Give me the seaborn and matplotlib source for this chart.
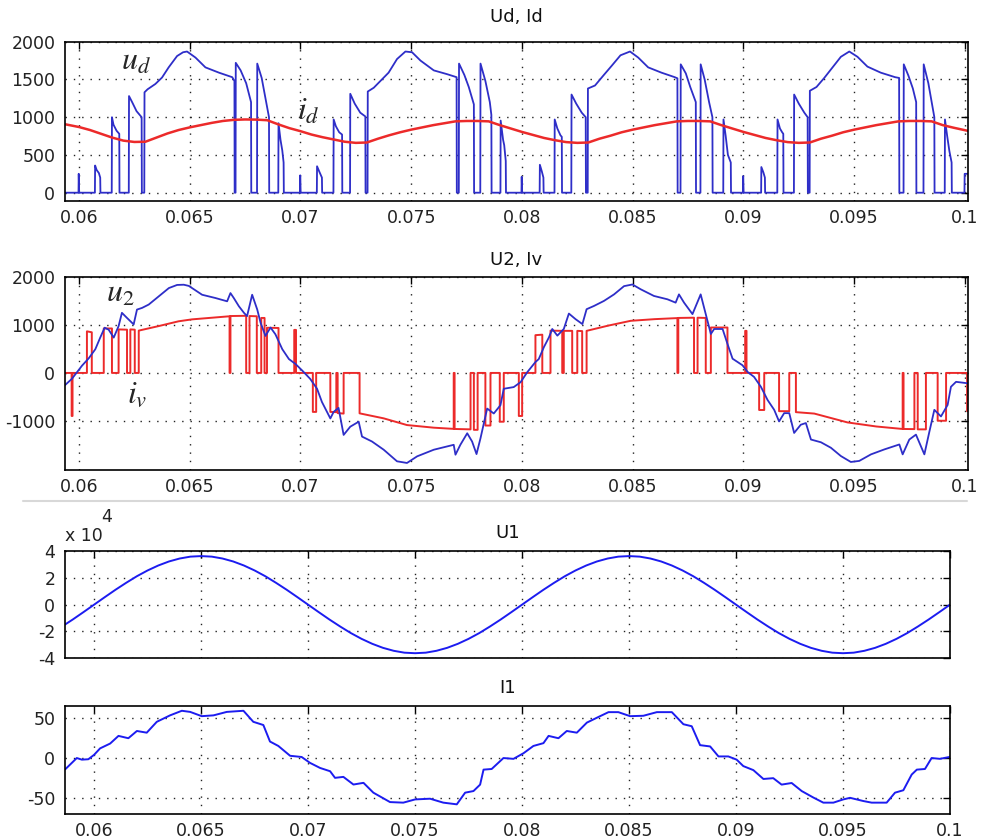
import numpy as np
import matplotlib
matplotlib.use("Agg")
import matplotlib.pyplot as plt
from matplotlib.lines import Line2D
import seaborn as sns

# ---------------- data (time in ms) ----------------
x_ticks = [0.06, 0.065, 0.07, 0.075, 0.08, 0.085, 0.09, 0.095, 0.1]
x_tick_labels = ["0.06", "0.065", "0.07", "0.075", "0.08", "0.085", "0.09", "0.095", "0.1"]

ud_pts = [
    (59.40, 0), (59.98, 0), (59.99, 250), (60.01, 0),
    (60.72, 0), (60.73, 360), (60.80, 300), (60.90, 260), (60.96, 200), (60.97, 0),
    (61.48, 0), (61.49, 1000), (61.56, 900), (61.70, 820), (61.82, 780), (61.83, 0),
    (62.25, 0), (62.26, 1280), (62.40, 1200), (62.60, 1080), (62.83, 1000), (62.84, 0),
    (62.95, 0), (62.96, 1330), (63.10, 1370), (63.45, 1440), (63.75, 1525), (64.05, 1660),
    (64.43, 1810), (64.70, 1860), (64.88, 1870), (65.26, 1790), (65.71, 1660), (66.32, 1590),
    (66.92, 1530), (67.02, 1480), (67.03, 0), (67.07, 0), (67.08, 1720), (67.30, 1620),
    (67.55, 1450), (67.77, 1200), (67.78, 0), (68.04, 0), (68.05, 1710), (68.25, 1520),
    (68.42, 1250), (68.58, 1000), (68.59, 0), (69.00, 0), (69.01, 920), (69.10, 700),
    (69.18, 560), (69.24, 400), (69.25, 0),
    (69.98, 0), (69.99, 230), (70.01, 0),
    (70.74, 0), (70.75, 350), (70.85, 280), (70.97, 200), (70.98, 0),
    (71.49, 0), (71.50, 970), (71.60, 880), (71.75, 800), (71.88, 770), (71.89, 0),
    (72.24, 0), (72.25, 1310), (72.45, 1180), (72.70, 1060), (72.93, 1010), (72.94, 0),
    (73.03, 0), (73.04, 1340), (73.31, 1390), (73.61, 1480), (73.98, 1590), (74.36, 1770),
    (74.74, 1870), (75.04, 1860), (75.42, 1750), (76.02, 1620), (76.62, 1570), (77.05, 1530),
    (77.06, 0), (77.15, 0), (77.16, 1710), (77.40, 1560), (77.60, 1400), (77.83, 1170),
    (77.84, 0), (78.12, 0), (78.13, 1710), (78.35, 1480), (78.55, 1200), (78.62, 1030),
    (78.63, 0), (79.03, 0), (79.04, 955), (79.15, 700), (79.20, 630), (79.27, 420), (79.28, 0),
    (79.98, 0), (79.99, 210), (80.01, 0),
    (80.80, 0), (80.81, 370), (80.90, 280), (80.97, 200), (80.98, 0),
    (81.47, 0), (81.48, 970), (81.60, 850), (81.74, 760), (81.80, 740), (81.81, 0),
    (82.23, 0), (82.24, 1300), (82.45, 1180), (82.70, 1060), (82.88, 1000), (82.89, 0),
    (82.97, 0), (82.98, 1380), (83.30, 1420), (83.70, 1560), (84.05, 1680), (84.45, 1820),
    (84.88, 1870), (85.25, 1790), (85.70, 1660), (86.30, 1590), (86.90, 1530), (87.02, 1515),
    (87.03, 0), (87.16, 0), (87.17, 1700), (87.40, 1580), (87.60, 1400), (87.85, 1200),
    (87.86, 0), (88.06, 0), (88.07, 1700), (88.25, 1500), (88.45, 1200), (88.60, 1000),
    (88.61, 0), (89.09, 0), (89.10, 970), (89.20, 750), (89.30, 500), (89.43, 400), (89.44, 0),
    (89.98, 0), (89.99, 220), (90.01, 0),
    (90.80, 0), (90.81, 340), (90.90, 270), (90.97, 200), (90.98, 0),
    (91.53, 0), (91.54, 970), (91.65, 850), (91.75, 800), (91.80, 780), (91.81, 0),
    (92.28, 0), (92.29, 1300), (92.50, 1180), (92.75, 1060), (92.90, 1000), (92.91, 0),
    (92.99, 0), (93.00, 1350), (93.30, 1400), (93.65, 1520), (94.00, 1650), (94.40, 1800),
    (94.78, 1870), (95.15, 1800), (95.60, 1670), (96.20, 1590), (96.85, 1530), (97.03, 1520),
    (97.04, 0), (97.23, 0), (97.24, 1700), (97.45, 1550), (97.65, 1380), (97.80, 1200),
    (97.81, 0), (98.13, 0), (98.14, 1700), (98.35, 1450), (98.50, 1200), (98.62, 1000),
    (98.63, 0), (99.09, 0), (99.10, 970), (99.20, 750), (99.30, 550), (99.40, 400), (99.41, 0),
    (99.98, 0), (99.99, 250), (100.20, 250),
]

id_t = [59.4, 60.0, 60.5, 61.0, 61.5, 62.0, 62.5, 63.0, 63.5, 64.0, 64.5, 65.0, 65.5, 66.0,
        66.5, 67.0, 67.5, 68.0, 68.5, 69.0, 69.5, 70.0, 70.5, 71.0, 71.5, 72.0, 72.5, 73.0,
        73.5, 74.0, 74.5, 75.0, 75.5, 76.0, 76.5, 77.0, 77.5, 78.0, 78.5, 79.0, 79.5, 80.0,
        80.5, 81.0, 81.5, 82.0, 82.5, 83.0, 83.5, 84.0, 84.5, 85.0, 85.5, 86.0, 86.5, 87.0,
        87.5, 88.0, 88.5, 89.0, 89.5, 90.0, 90.5, 91.0, 91.5, 92.0, 92.5, 93.0, 93.5, 94.0,
        94.5, 95.0, 95.5, 96.0, 96.5, 97.0, 97.5, 98.0, 98.5, 99.0, 99.5, 100.2]
id_v = [905, 870, 830, 780, 730, 690, 672, 675, 730, 785, 830, 865, 895, 925,
        950, 965, 970, 968, 960, 905, 855, 815, 770, 735, 705, 675, 660, 665,
        715, 760, 800, 835, 865, 895, 920, 945, 950, 950, 945, 895, 850, 805,
        765, 725, 695, 670, 660, 665, 715, 755, 800, 835, 865, 895, 920, 945,
        950, 950, 945, 895, 850, 805, 765, 725, 695, 670, 660, 665, 715, 755,
        800, 835, 865, 895, 920, 945, 950, 950, 945, 895, 860, 815]

u2_pts = [
    (59.37, -255), (59.68, -124), (60.14, 153), (60.44, 305), (60.74, 497), (60.96, 739),
    (61.16, 946), (61.34, 905), (61.57, 739), (61.79, 980), (61.94, 1257), (62.17, 1150),
    (62.47, 1015), (62.62, 1325), (62.85, 1360), (63.15, 1430), (63.60, 1600), (64.06, 1775),
    (64.43, 1840), (64.73, 1845), (64.96, 1820), (65.56, 1635), (66.16, 1567), (66.69, 1498),
    (66.84, 1670), (66.99, 1567), (67.22, 1395), (67.45, 1257), (67.59, 1188), (67.82, 1635),
    (68.05, 1325), (68.20, 1050), (68.42, 774), (68.65, 950), (68.87, 808), (69.18, 497),
    (69.48, 290), (69.78, 186), (70.08, 50), (70.44, -124), (70.75, -331), (70.97, -607),
    (71.20, -814), (71.35, -952), (71.50, -814), (71.72, -731), (71.95, -1296), (72.25, -1124),
    (72.63, -1020), (72.78, -1331), (73.23, -1434), (73.76, -1606), (74.36, -1848),
    (74.81, -1883), (75.27, -1744), (76.02, -1606), (76.62, -1537), (76.92, -1503),
    (77.00, -1710), (77.22, -1503), (77.53, -1262), (77.75, -1434), (77.95, -1697),
    (78.13, -1365), (78.43, -745), (78.73, -848), (79.03, -675), (79.18, -331), (79.63, -296),
    (79.94, -193), (80.24, 15), (80.61, 228), (80.76, 290), (80.99, 538), (81.22, 745),
    (81.37, 919), (81.60, 780), (81.89, 919), (82.12, 1242), (82.42, 1125), (82.73, 1022),
    (82.92, 1333), (83.25, 1400), (83.70, 1505), (84.16, 1643), (84.61, 1815), (84.99, 1850),
    (85.36, 1750), (85.96, 1610), (86.57, 1540), (86.94, 1470), (87.09, 1643), (87.32, 1470),
    (87.70, 1230), (88.07, 1643), (88.30, 1230), (88.53, 815), (88.68, 919), (89.06, 919),
    (89.28, 608), (89.51, 298), (89.96, 160), (90.19, 21), (90.48, -83), (90.79, -290),
    (91.09, -565), (91.39, -772), (91.61, -1014), (91.84, -841), (92.07, -841), (92.29, -1255),
    (92.59, -1083), (92.82, -1048), (93.05, -1393), (93.50, -1450), (93.95, -1565),
    (94.40, -1738), (94.85, -1862), (95.23, -1840), (95.76, -1703), (96.36, -1600),
    (97.04, -1496), (97.19, -1703), (97.49, -1393), (97.79, -1290), (98.17, -1703),
    (98.40, -1221), (98.62, -772), (98.92, -910), (99.22, -669), (99.37, -290), (99.60, -186),
    (100.20, -221),
]

iv_pts = [
    (59.40, 0), (59.67, 0), (59.67, -900), (59.71, -900), (59.71, 0),
    (60.36, 0), (60.36, 870), (60.58, 850), (60.58, 0),
    (61.12, 0), (61.12, 930), (61.49, 930), (61.49, 0),
    (61.79, 0), (61.79, 910), (62.17, 905), (62.17, 0),
    (62.32, 0), (62.32, 910), (62.52, 905), (62.52, 0),
    (62.70, 0), (62.70, 885), (63.60, 980), (64.50, 1080), (65.10, 1120), (65.90, 1150), (66.80, 1185),
    (66.80, 0), (66.84, 0), (66.84, 1190), (67.55, 1195), (67.55, 0), (67.70, 0), (67.70, 1190),
    (68.03, 1185), (68.03, 0), (68.23, 0), (68.23, 1150), (68.38, 1150), (68.38, 0),
    (68.49, 0), (68.49, 945), (69.01, 940), (69.01, 0),
    (69.72, 0), (69.72, 900), (69.80, 900), (69.80, 0),
    (70.56, 0), (70.56, -815), (70.71, -815), (70.71, 0),
    (71.35, 0), (71.35, -815), (71.62, -820), (71.62, 0),
    (71.68, 0), (71.68, -840), (71.95, -850), (71.95, 0),
    (72.67, 0), (72.67, -845), (73.76, -950), (74.81, -1090), (76.02, -1145), (76.92, -1170),
    (76.92, 0), (76.96, 0), (76.96, -1172), (77.68, -1180), (77.68, 0),
    (77.83, 0), (77.83, -1190), (78.00, -1190), (78.00, 0),
    (78.35, 0), (78.35, -1100), (78.58, -1100), (78.58, 0),
    (79.00, 0), (79.00, -1020), (79.18, -1020), (79.18, 0),
    (79.86, 0), (79.86, -900), (80.01, -900), (80.01, 0),
    (80.61, 0), (80.61, 790), (80.92, 800), (80.92, 0),
    (81.29, 0), (81.29, 885), (81.82, 880), (81.82, 0),
    (81.89, 0), (81.89, 880), (82.27, 880), (82.27, 0),
    (82.50, 0), (82.50, 880), (82.72, 875), (82.72, 0),
    (82.92, 0), (82.92, 880), (83.90, 990), (84.91, 1090), (86.00, 1125), (87.02, 1147),
    (87.02, 0), (87.06, 0), (87.06, 1150), (87.77, 1155), (87.77, 0), (87.93, 0), (87.93, 1155),
    (88.30, 1150), (88.30, 0),
    (88.53, 0), (88.53, 950), (89.28, 950), (89.28, 0),
    (90.08, 0), (90.08, 880), (90.14, 880), (90.14, 0),
    (90.71, 0), (90.71, -775), (90.94, -775), (90.94, 0),
    (91.61, 0), (91.61, -800), (92.07, -800), (92.07, 0),
    (92.37, 0), (92.37, -820), (93.20, -850), (94.70, -1035), (96.00, -1120), (97.19, -1172),
    (97.19, 0), (97.23, 0), (97.23, -1172), (97.72, -1175), (97.72, 0),
    (97.87, 0), (97.87, -1180), (98.24, -1180), (98.24, 0),
    (98.77, 0), (98.77, -1000), (99.15, -1000), (99.15, 0),
    (100.10, 0), (100.10, -800), (100.20, -800),
]

u1_t = [58.5, 59.0, 59.5, 60.0, 60.5, 61.0, 61.5, 62.0, 62.5, 63.0, 63.5, 64.0, 64.5, 65.0,
        65.5, 66.0, 66.5, 67.0, 67.5, 68.0, 68.5, 69.0, 69.5, 70.0, 70.5, 71.0, 71.5, 72.0,
        72.5, 73.0, 73.5, 74.0, 74.5, 75.0, 75.5, 76.0, 76.5, 77.0, 77.5, 78.0, 78.5, 79.0,
        79.5, 80.0, 80.5, 81.0, 81.5, 82.0, 82.5, 83.0, 83.5, 84.0, 84.5, 85.0, 85.5, 86.0,
        86.5, 87.0, 87.5, 88.0, 88.5, 89.0, 89.5, 90.0, 90.5, 91.0, 91.5, 92.0, 92.5, 93.0,
        93.5, 94.0, 94.5, 95.0, 95.5, 96.0, 96.5, 97.0, 97.5, 98.0, 98.5, 99.0, 99.5, 100.0]
u1_v = [-16300, -11100, -5600, 0, 5600, 11100, 16300, 21200, 25500, 29200, 32200, 34400, 35800, 36200,
        35800, 34400, 32200, 29200, 25500, 21200, 16300, 11100, 5600, 0, -5600, -11100, -16300, -21200,
        -25500, -29200, -32200, -34400, -35800, -36200, -35800, -34400, -32200, -29200, -25500, -21200, -16300, -11100,
        -5600, 0, 5600, 11100, 16300, 21200, 25500, 29200, 32200, 34400, 35800, 36200, 35800, 34400,
        32200, 29200, 25500, 21200, 16300, 11100, 5600, 0, -5600, -11100, -16300, -21200, -25500, -29200,
        -32200, -34400, -35800, -36200, -35800, -34400, -32200, -29200, -25500, -21200, -16300, -11100, -5600, 0]

i1_pts = [
    (58.65, -14), (58.96, -6), (59.19, 0), (59.43, -2), (59.73, -1.5), (60.00, 4), (60.28, 12),
    (60.75, 18), (61.14, 27.5), (61.60, 24.6), (62.00, 33.6), (62.46, 31.5), (62.93, 45),
    (63.55, 53), (64.10, 58.7), (64.49, 57.3), (65.03, 52), (65.58, 53), (66.20, 57.3),
    (66.98, 58.7), (67.44, 45), (67.91, 41), (68.22, 20.5), (68.61, 15), (69.16, 2.8),
    (69.70, 1.3), (70.09, -6), (70.56, -12.3), (71.03, -16.4), (71.26, -24.6), (71.65, -23.4),
    (72.12, -32.9), (72.59, -30.8), (73.05, -43), (73.83, -54.7), (74.45, -55.4), (75.00, -51.4),
    (75.70, -50.5), (76.32, -55.4), (76.95, -57.5), (77.34, -43), (77.73, -41), (78.04, -33),
    (78.20, -14.4), (78.58, -13.6), (79.13, 0), (79.60, -1), (80.07, 6), (80.53, 15),
    (81.00, 18.5), (81.24, 27.5), (81.70, 24.6), (82.09, 33.6), (82.56, 31.5), (83.03, 44),
    (83.57, 51), (84.04, 57), (84.50, 57), (85.05, 52), (85.67, 52.5), (86.30, 57), (87.00, 57),
    (87.54, 42), (87.93, 39.5), (88.32, 16), (88.79, 14.4), (89.18, 2), (89.64, 2), (90.03, -2),
    (90.34, -10), (90.81, -15), (91.28, -26), (91.74, -25), (92.13, -33), (92.60, -31),
    (93.07, -41), (93.61, -49), (94.08, -55.4), (94.55, -55.4), (95.01, -51.4), (95.33, -49.4),
    (95.95, -53.4), (96.34, -55.4), (97.04, -55.4), (97.43, -43), (97.82, -40), (98.21, -20.5),
    (98.45, -14.4), (98.83, -13.6), (99.14, 0), (99.53, -1), (99.97, 1.3),
]

yt1 = [0, 500, 1000, 1500, 2000]
yt2 = [-1000, 0, 1000, 2000]
yt3 = [-40000, -20000, 0, 20000, 40000]
yt3_labels = ["-4", "-2", "0", "2", "4"]
yt4 = [-50, 0, 50]

# ---------------- styling ----------------
sns.set_style("white")
plt.rcParams['font.family'] = ['DejaVu Sans']
plt.rcParams['mathtext.fontset'] = 'stix'

W, H = 983, 839
fig = plt.figure(figsize=(W / 100, H / 100), dpi=100)
fig.patch.set_facecolor('white')


def axes_px(l, t, r, b):
    return fig.add_axes([l / W, 1 - b / H, (r - l) / W, (b - t) / H])


BLUE = '#2e2ec8'
BLUE2 = '#1c1cf0'
RED = '#ec2a2a'


def to_s(vals):
    return np.asarray(vals, dtype=float) / 1000.0


def style(ax, xlim, ylim, yticks, ylabels=None, showx=True, title='', tpad=8):
    ax.set_xlim(*xlim)
    ax.set_ylim(*ylim)
    ax.set_xticks(x_ticks)
    ax.set_xticklabels(x_tick_labels if showx else [])
    ax.set_yticks(yticks)
    ax.set_yticklabels(ylabels if ylabels is not None else [str(v) for v in yticks])
    ax.grid(True, color='#222222', linestyle=(0, (1, 5)), linewidth=1.0)
    ax.set_axisbelow(True)
    ax.tick_params(direction='in', top=True, right=True, length=5, width=1.0,
                   labelsize=12.5, colors='black', labelcolor='#222222')
    ax.tick_params(axis='x', pad=6)
    ax.tick_params(axis='y', pad=7)
    for s in ax.spines.values():
        s.set_linewidth(1.2)
        s.set_color('black')
    ax.set_xlabel('')
    ax.set_ylabel('')
    ax.set_title(title, fontsize=13, pad=tpad, color='#111111')


# Panel 1 : Ud, Id
ax1 = axes_px(65, 41.7, 968, 201)
t, v = zip(*ud_pts)
sns.lineplot(x=to_s(t), y=list(v), ax=ax1, sort=False, estimator=None, color=BLUE, linewidth=1.3)
sns.lineplot(x=to_s(id_t), y=id_v, ax=ax1, sort=False, estimator=None, color=RED, linewidth=1.8)
style(ax1, (0.05937, 0.10014), (-110, 2000), yt1, title='Ud, Id', tpad=14)

# Panel 2 : U2, Iv
ax2 = axes_px(65, 277.3, 968, 470)
t, v = zip(*iv_pts)
sns.lineplot(x=to_s(t), y=list(v), ax=ax2, sort=False, estimator=None, color=RED, linewidth=1.4)
t, v = zip(*u2_pts)
sns.lineplot(x=to_s(t), y=list(v), ax=ax2, sort=False, estimator=None, color=BLUE, linewidth=1.3)
style(ax2, (0.05937, 0.10014), (-2030, 2000), yt2, title='U2, Iv', tpad=8.5)

# Panel 3 : U1
ax3 = axes_px(65, 551, 950, 658.3)
sns.lineplot(x=to_s(u1_t), y=u1_v, ax=ax3, sort=False, estimator=None, color=BLUE2, linewidth=1.4)
style(ax3, (0.05864, 0.1), (-40000, 40000), yt3, ylabels=yt3_labels, showx=False, title='U1', tpad=9)

# Panel 4 : I1
ax4 = axes_px(65, 705.7, 950, 814)
t, v = zip(*i1_pts)
sns.lineplot(x=to_s(t), y=list(v), ax=ax4, sort=False, estimator=None, color=BLUE2, linewidth=1.4)
style(ax4, (0.05864, 0.1), (-69.5, 65), yt4, title='I1', tpad=9)

# annotations (italic math labels)
fig.text(121 / W, 1 - 70 / H, r'$u_d$', fontsize=23, ha='left', va='baseline')
fig.text(297 / W, 1 - 120 / H, r'$i_d$', fontsize=23, ha='left', va='baseline')
fig.text(106 / W, 1 - 302 / H, r'$u_2$', fontsize=23, ha='left', va='baseline')
fig.text(127 / W, 1 - 403 / H, r'$i_v$', fontsize=23, ha='left', va='baseline')

# exponent label of panel 3
fig.text(65 / W, 1 - 541 / H, 'x 10', fontsize=12.5, ha='left', va='baseline', color='#222222')
fig.text(101 / W, 1 - 522 / H, '4', fontsize=12.5, ha='left', va='baseline', color='#222222')

# thin separator line between the screenshots
fig.add_artist(Line2D([23 / W, 967 / W], [1 - 501 / H, 1 - 501 / H], transform=fig.transFigure,
                      color='#d8d8d8', linewidth=1.5))

fig.savefig('out.png', dpi=100, facecolor='white')
